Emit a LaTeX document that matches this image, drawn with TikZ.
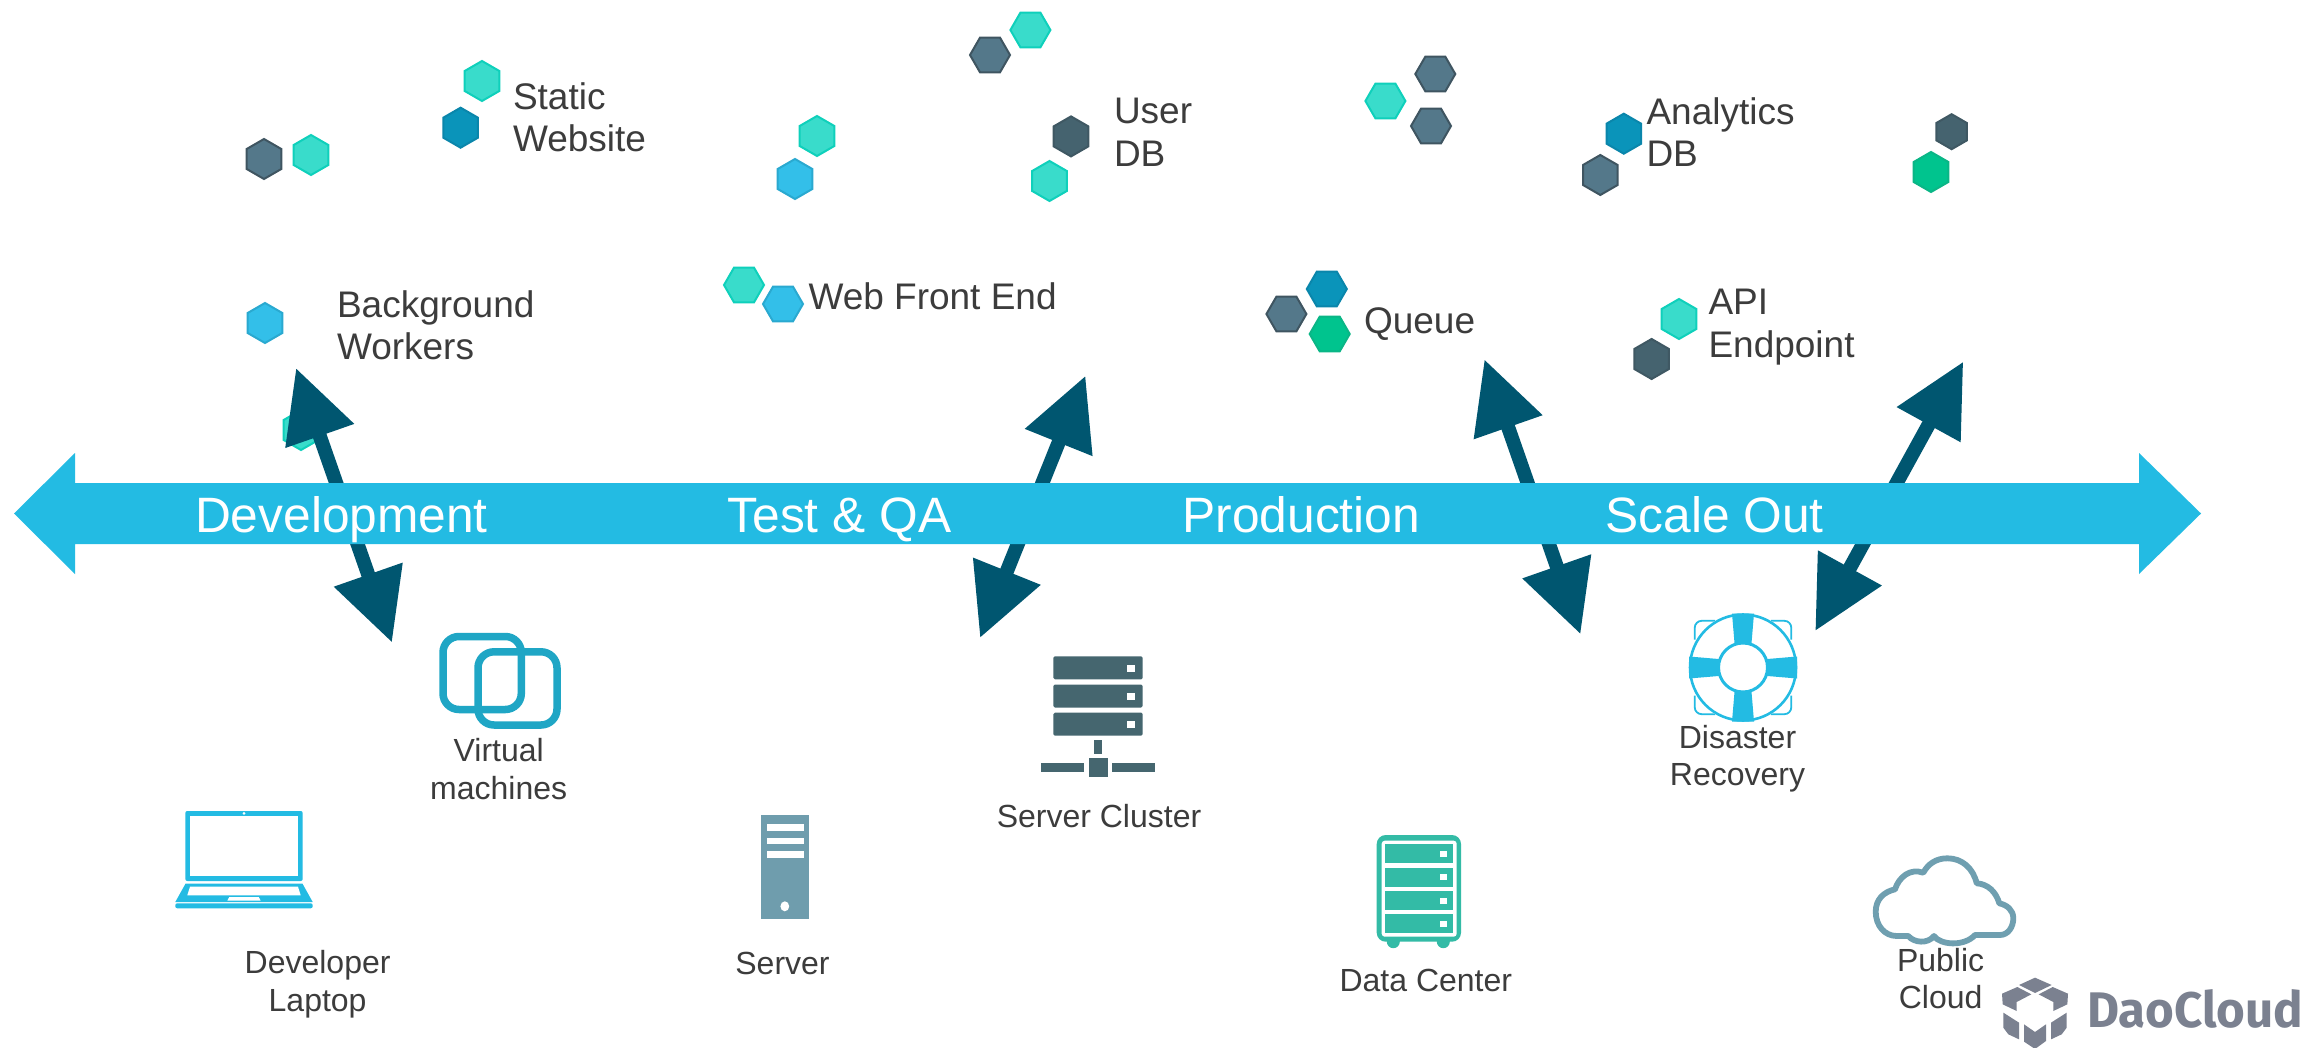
\documentclass[tikz,border=0pt]{standalone}
\usepackage{fontspec}
\setmainfont{Liberation Sans}
\newfontfamily\logofont{Fira Sans}
\usetikzlibrary{arrows.meta,shapes.geometric}
\definecolor{banner}{HTML}{23BBE3}
\definecolor{darrow}{HTML}{005670}
\definecolor{txt}{HTML}{3C3C3C}
\definecolor{vmc}{HTML}{1FA6C5}
\definecolor{towerc}{HTML}{6F9DAD}
\definecolor{clusterc}{HTML}{45666F}
\definecolor{dcc}{HTML}{33BBA6}
\definecolor{cloudc}{HTML}{6F9FB0}
\definecolor{logoc}{HTML}{7B8190}
\tikzset{
  hexbase/.style={regular polygon,regular polygon sides=6,minimum size=40pt,inner sep=0pt,outer sep=0pt,line width=2pt},
  hexp/.style={hexbase,shape border rotate=30},
  hexf/.style={hexbase},
  hexteal/.style={fill={rgb,255:red,57;green,220;blue,203},draw={rgb,255:red,15;green,208;blue,187}},
  hexslate/.style={fill={rgb,255:red,84;green,120;blue,138},draw={rgb,255:red,63;green,85;blue,97}},
  hexdeep/.style={fill={rgb,255:red,10;green,148;blue,186},draw={rgb,255:red,10;green,134;blue,171}},
  hexsky/.style={fill={rgb,255:red,51;green,191;blue,233},draw={rgb,255:red,42;green,169;blue,208}},
  hexdark/.style={fill={rgb,255:red,69;green,99;blue,111},draw={rgb,255:red,63;green,88;blue,99}},
  hexgreen/.style={fill={rgb,255:red,0;green,196;blue,142},draw={rgb,255:red,10;green,182;blue,134}},
  lbl/.style={font=\fontsize{37}{42.5}\selectfont,text=txt,inner sep=0pt,outer sep=0pt,align=left,anchor=base west},
  sublbl/.style={font=\fontsize{32}{37.5}\selectfont,text=txt,inner sep=0pt,outer sep=0pt,align=center,anchor=base},
  stage/.style={font=\fontsize{49.7}{55}\selectfont,text=white,inner sep=0pt,outer sep=0pt,anchor=base west},
  dbl/.style={draw=darrow,line width=14pt,{Triangle[length=72pt,width=69pt,fill=darrow]}-{Triangle[length=72pt,width=69pt,fill=darrow]}},
}
\begin{document}
\begin{tikzpicture}[x=1pt,y=-1pt]
\useasboundingbox (0,0) rectangle (2301,1048);
\fill[white] (0,0) rectangle (2301,1048);

% hexagons
\node[hexp,hexslate] (h1) at (264,159) {};
\node[hexp,hexteal] (h2) at (311,155) {};
\node[hexp,hexteal] (h3) at (482,81) {};
\node[hexp,hexdeep] (h4) at (460.6,127.7) {};
\node[hexp,hexteal] (h5) at (817,136) {};
\node[hexp,hexsky] (h6) at (795,179) {};
\node[hexp,hexdark] (h7) at (1071,136.4) {};
\node[hexp,hexteal] (h8) at (1049.5,181) {};
\node[hexp,hexsky] (h9) at (265,323) {};
\node[hexp,hexteal] (h10) at (301,430) {};
\node[hexf,hexteal] (h11) at (1030.4,30) {};
\node[hexf,hexslate] (h12) at (990,55) {};
\node[hexf,hexteal] (h13) at (744,285) {};
\node[hexf,hexsky] (h14) at (783,304) {};
\node[hexf,hexslate] (h15) at (1435.3,74) {};
\node[hexf,hexteal] (h16) at (1385.4,101) {};
\node[hexf,hexslate] (h17) at (1431,126) {};
\node[hexf,hexdeep] (h18) at (1326.8,289) {};
\node[hexf,hexslate] (h19) at (1286.4,314) {};
\node[hexf,hexgreen] (h20) at (1329.7,334) {};
\node[hexp,hexdeep] (h21) at (1623.8,133.7) {};
\node[hexp,hexslate] (h22) at (1600.3,175) {};
\node[hexp,hexdark,minimum size=35pt] (h23) at (1951.6,131.7) {};
\node[hexp,hexgreen] (h24) at (1931,172) {};
\node[hexp,hexteal] (h25) at (1679,319) {};
\node[hexp,hexdark] (h26) at (1651.6,359) {};

% labels above
\node[lbl] (l1) at (513,151.7) {Static\\Website};
\node[lbl] (l2) at (337,359.5) {Background\\Workers};
\node[lbl] (l3) at (808.5,310) {Web Front End};
\node[lbl] (l4) at (1114,166.5) {User\\DB};
\node[lbl] (l5) at (1646.5,167) {Analytics\\DB};
\node[lbl] (l6) at (1364,333.5) {Queue};
\node[lbl] (l7) at (1708.5,357) {API\\Endpoint};

% double arrows (banner is laid over them)
\coordinate (a1t) at (296,368);
\coordinate (a1b) at (392,642.6);
\coordinate (a2t) at (1085.5,375.7);
\coordinate (a2b) at (980,638);
\coordinate (a3t) at (1484.4,359.3);
\coordinate (a3b) at (1580.5,634.3);
\coordinate (a4t) at (1963.3,361.6);
\coordinate (a4b) at (1815.2,631);
\draw[dbl] (a1t) -- (a1b);
\draw[dbl] (a2t) -- (a2b);
\draw[dbl] (a3t) -- (a3b);
\draw[dbl] (a4t) -- (a4b);

% banner
\fill[banner] (14,513.5) -- (75,453) -- (75,483) -- (2139,483) -- (2139,453) -- (2201,513.5) -- (2139,574) -- (2139,544) -- (75,544) -- (75,574) -- cycle;
\node[stage] (s1) at (195,532.5) {Development};
\node[stage] (s2) at (727.5,532.5) {Test \& QA};
\node[stage] (s3) at (1182.5,532.5) {Production};
\node[stage] (s4) at (1605.5,532.5) {Scale Out};

% virtual machines icon
\draw[vmc,line width=7.5pt,rounded corners=16pt] (443,636.5) rectangle (521.3,709.5);
\draw[vmc,line width=7.5pt,rounded corners=16pt] (478,651.8) rectangle (557,725);
\node[sublbl] (b1) at (498.7,799) {Virtual\\machines};

% laptop icon
\fill[banner,rounded corners=2pt] (185.3,811) rectangle (302.7,881);
\fill[white] (190.3,816) rectangle (297.7,876);
\fill[white] (244,813.3) circle (1.5);
\fill[banner] (185.5,883.7) -- (302.5,883.7) -- (312.7,902) -- (175.3,902) -- cycle;
\fill[white] (190,886.7) -- (298,886.7) -- (300.7,895.3) -- (187.3,895.3) -- cycle;
\fill[white] (229.3,897) -- (258.7,897) -- (260.7,900.7) -- (227.3,900.7) -- cycle;
\fill[banner,rounded corners=2pt] (175.3,903.3) rectangle (312.7,908.3);
\node[sublbl] (b2) at (317.6,1011) {Developer\\Laptop};

% server tower icon
\fill[towerc] (761.3,815.4) rectangle (809,918.7);
\fill[white] (767,823.8) rectangle (803.8,830.8);
\fill[white] (767,837.5) rectangle (803.8,844.2);
\fill[white] (767,850.9) rectangle (803.8,857.6);
\fill[white] (784.8,906.3) ellipse (4.4 and 5);
\node[sublbl] (b3) at (782.5,974.5) {Server};

% server cluster icon
\foreach \yy in {656.3,684.5,712.7}{
  \fill[clusterc,rounded corners=1.5pt] (1053.3,\yy) rectangle (1142.7,\yy+23);
  \fill[white] (1126.7,\yy+8.4) rectangle (1135.3,\yy+15.4);
}
\fill[clusterc] (1094,739.7) rectangle (1102,753.7);
\fill[clusterc] (1088.7,757.7) rectangle (1108,776.7);
\fill[clusterc] (1040.7,763.3) rectangle (1084.3,771.7);
\fill[clusterc] (1112,763.3) rectangle (1155.3,771.7);
\node[sublbl] (b4) at (1099,827.5) {Server Cluster};

% data center icon
\fill[dcc] (1393.3,941.7) circle (6.5);
\fill[dcc] (1443.3,941.7) circle (6.5);
\fill[dcc,rounded corners=9pt] (1376.7,835) rectangle (1461,941.7);
\fill[white,rounded corners=3pt] (1381.7,840.7) rectangle (1456.7,936.7);
\foreach \yy in {844.3,867.7,891.1,914.4}{
  \fill[dcc] (1385,\yy) rectangle (1453,\yy+19);
  \fill[white] (1440.3,\yy+6.7) rectangle (1447,\yy+12.4);
}
\node[sublbl] (b5) at (1425.8,991.5) {Data Center};

% lifebuoy icon
\coordinate (lb) at (1743,667.5);
\begin{scope}[shift={(lb)}]
  \foreach \sx/\sy in {1/1,-1/1,1/-1,-1/-1}{
    \draw[banner,line width=1.8pt,xscale=\sx,yscale=\sy,rounded corners=7pt] (-48.3,-28) -- (-48.3,-46.7) -- (-28,-46.7);
  }
  \fill[white] (0,0) circle (54.3);
  \foreach \ang in {0,90,180,270}{
    \begin{scope}[rotate=\ang]
      \fill[banner] (-8.3,-22) -- (8.3,-22) -- (11,-54) -- (-11,-54) -- cycle;
    \end{scope}
  }
  \draw[banner,line width=2.6pt] (0,0) circle (53);
  \draw[banner,line width=3pt,fill=white] (0,0) circle (24.5);
\end{scope}
\node[sublbl] (b6) at (1737.5,785.7) {Disaster\\Recovery};

% cloud icon
\draw[cloudc,line width=5.8pt,fill=white,line join=round]
  (1975,935) -- (2000,935)
  .. controls (2008,935) and (2013.3,927) .. (2013.3,918.3)
  .. controls (2013.3,910) and (2007,905) .. (1999.3,903.3)
  .. controls (1996,892) and (1988,884) .. (1976.7,883.3)
  .. controls (1973,868) and (1962,858.3) .. (1947.3,858.3)
  .. controls (1936,858.3) and (1928,864) .. (1923.3,872.7)
  .. controls (1910,868) and (1899,877) .. (1895,889.3)
  .. controls (1883,892) and (1875.7,900) .. (1875.7,911.7)
  .. controls (1875.7,926) and (1885,936) .. (1896.7,936)
  -- (1908.3,936)
  .. controls (1914,943) and (1928,944) .. (1934,936)
  .. controls (1940,945) and (1964,947) .. (1975,935) -- cycle;
\node[sublbl] (b7) at (1940.6,1008.5) {Public\\Cloud};

% DaoCloud logo
\begin{scope}[shift={(2000,971)},x=0.3333pt,y=-0.3333pt]
  \fill[logoc] (57,42) -- (105,20) -- (155,42) -- (105,66) -- cycle;
  \fill[logoc] (6,68) -- (52,48) -- (94,70) -- (50,93) -- (50,120) -- (8,100) -- cycle;
  \fill[logoc] (204,68) -- (158,48) -- (116,70) -- (160,93) -- (160,120) -- (202,100) -- cycle;
  \fill[logoc] (10,125) -- (57,155) -- (57,205) -- (25,190) -- (10,170) -- cycle;
  \fill[logoc] (200,125) -- (153,155) -- (153,205) -- (185,190) -- (200,170) -- cycle;
  \fill[logoc] (72,160) -- (105,183) -- (138,160) -- (138,210) -- (105,234) -- (72,212) -- cycle;
\end{scope}
\node[inner sep=0pt,outer sep=0pt,anchor=base west,text=logoc,font=\logofont\bfseries\fontsize{50}{55}\selectfont] (logo) at (2087,1027) {\scalebox{0.985}[1]{DaoCloud}};
\end{tikzpicture}
\end{document}
